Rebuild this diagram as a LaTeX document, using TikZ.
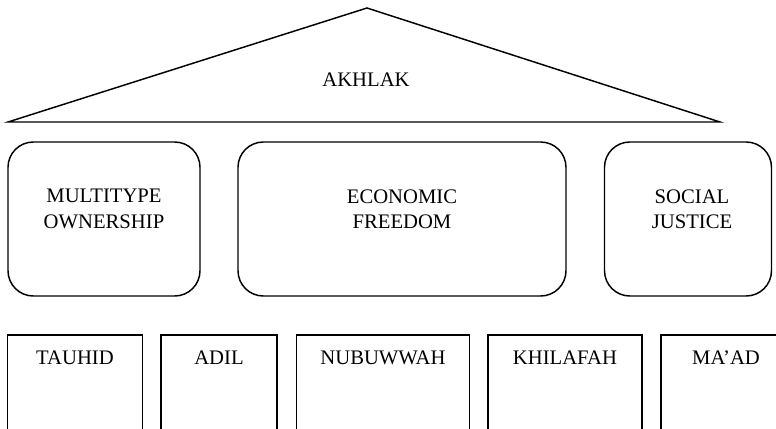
\documentclass[tikz,border=0pt]{standalone}
\usepackage{fontspec}
\setmainfont{Liberation Serif}
\begin{document}
\begin{tikzpicture}[x=0.75pt,y=-0.75pt,
  pillar/.style={draw,line width=1.1pt,rounded corners=19pt,inner sep=0pt},
  base/.style={draw,line width=1.3pt,inner sep=0pt},
  lbl/.style={font=\fontsize{15.5}{19}\selectfont,align=center,inner sep=0pt}]
\useasboundingbox (0,0) rectangle (776,429);
\clip (0,0) rectangle (776,429);
% roof
\coordinate (apex) at (367,8);
\coordinate (bl) at (8,122);
\coordinate (br) at (720,122);
\draw[line width=1.1pt,line join=miter] (apex) -- (br) -- (bl) -- cycle;
\node[lbl] (akhlak) at (366,80) {AKHLAK};
% pillars
\node[pillar,minimum width=192*0.75pt,minimum height=154*0.75pt] (mo) at (104,219) {};
\node[pillar,minimum width=328*0.75pt,minimum height=154*0.75pt] (ef) at (402,219) {};
\node[pillar,minimum width=167*0.75pt,minimum height=154*0.75pt] (sj) at (688,219) {};
\node[lbl] (motxt) at (104,209) {MULTITYPE\\OWNERSHIP};
\node[lbl] (eftxt) at (402,209) {ECONOMIC\\FREEDOM};
\node[lbl] (sjtxt) at (692,209) {SOCIAL\\JUSTICE};
% foundations
\node[base,minimum width=135*0.75pt,minimum height=120*0.75pt,anchor=north] (t) at (75,334) {};
\node[base,minimum width=116*0.75pt,minimum height=120*0.75pt,anchor=north] (a) at (219,334) {};
\node[base,minimum width=173*0.75pt,minimum height=120*0.75pt,anchor=north] (n) at (383,334) {};
\node[base,minimum width=154*0.75pt,minimum height=120*0.75pt,anchor=north] (k) at (565,334) {};
\node[base,minimum width=140*0.75pt,minimum height=120*0.75pt,anchor=north] (m) at (731,334) {};
\node[lbl] at ([yshift=-24*0.75pt]t.north) {TAUHID};
\node[lbl] at ([yshift=-24*0.75pt]a.north) {ADIL};
\node[lbl] at ([yshift=-24*0.75pt]n.north) {NUBUWWAH};
\node[lbl] at ([yshift=-24*0.75pt]k.north) {KHILAFAH};
\node[lbl] at ([yshift=-24*0.75pt,xshift=-5*0.75pt]m.north) {MA’AD};
\end{tikzpicture}
\end{document}
